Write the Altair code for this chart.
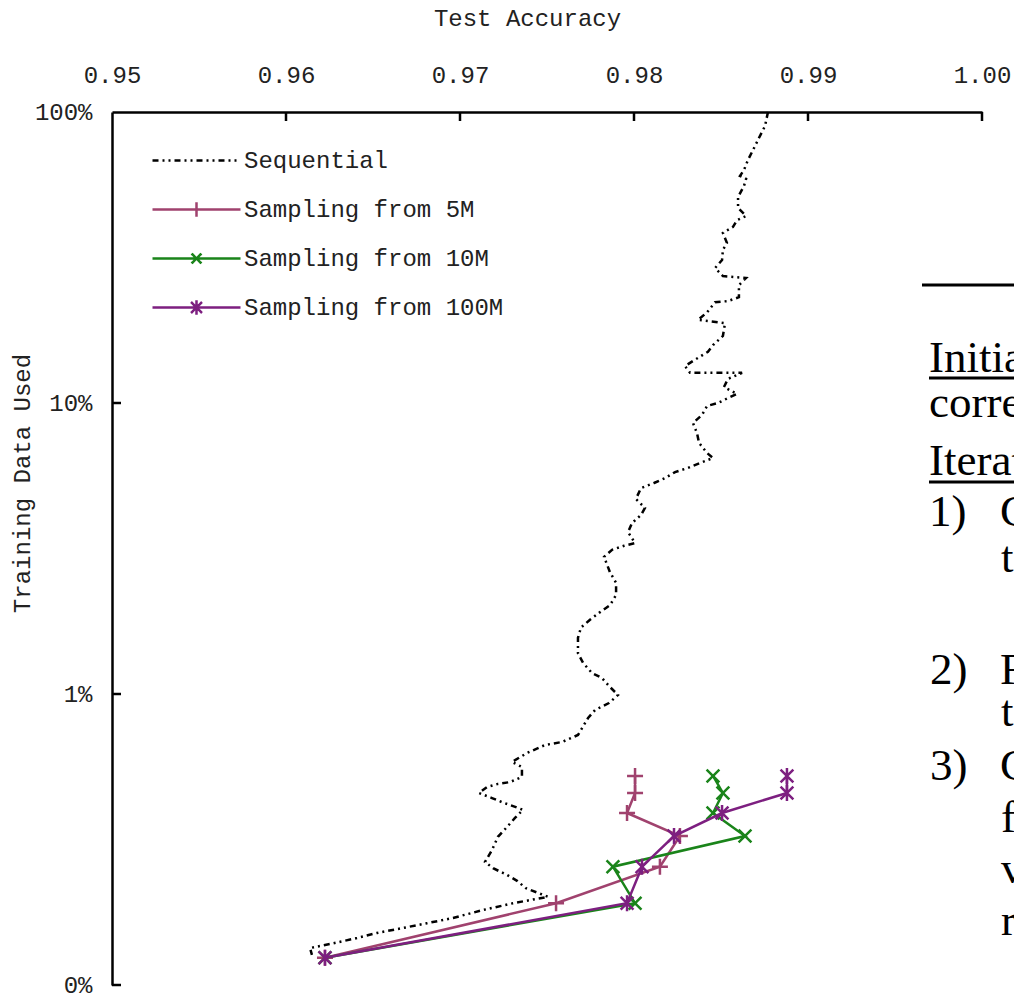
import altair as alt
import pandas as pd

# ---------------- data ----------------
series_names = ["Sequential", "Sampling from 5M", "Sampling from 10M", "Sampling from 100M"]
series_colors = ["#000000", "#A0426E", "#1A841A", "#7D1F80"]

seq_acc = [0.98770, 0.98753, 0.98718, 0.98684, 0.98655, 0.98632, 0.98609, 0.98644, 0.98632, 0.98598,
           0.98598, 0.98644, 0.98592, 0.98569, 0.98511, 0.98534, 0.98511, 0.98506, 0.98466, 0.98511,
           0.98644, 0.98603, 0.98603, 0.98540, 0.98466, 0.98420, 0.98368, 0.98431, 0.98523, 0.98511,
           0.98454, 0.98425, 0.98368, 0.98293, 0.98322, 0.98621, 0.98540, 0.98517, 0.98592, 0.98540,
           0.98483, 0.98420, 0.98391, 0.98339, 0.98362, 0.98374, 0.98420, 0.98454, 0.98379, 0.98310,
           0.98236, 0.98178, 0.98115, 0.98040, 0.98011, 0.98063, 0.98040, 0.97989, 0.97966, 0.98006,
           0.97943, 0.97874, 0.97828, 0.97862, 0.97897, 0.97897, 0.97862, 0.97799, 0.97747, 0.97695,
           0.97678, 0.97678, 0.97707, 0.97759, 0.97816, 0.97862, 0.97908, 0.97856, 0.97776, 0.97736,
           0.97678, 0.97586, 0.97489, 0.97385, 0.97299, 0.97356, 0.97356, 0.97287, 0.97218, 0.97155,
           0.97109, 0.97184, 0.97241, 0.97305, 0.97362, 0.97316, 0.97270, 0.97218, 0.97184, 0.97144,
           0.97190, 0.97270, 0.97328, 0.97379, 0.97506, 0.97305, 0.97132, 0.96960, 0.96810, 0.96672,
           0.96523, 0.96408, 0.96270, 0.96138, 0.96149]
seq_frac = [1.0, 0.895, 0.814, 0.740, 0.684, 0.632, 0.603, 0.589, 0.557, 0.510,
            0.468, 0.439, 0.425, 0.403, 0.384, 0.355, 0.336, 0.310, 0.291, 0.273,
            0.269, 0.254, 0.231, 0.224, 0.222, 0.205, 0.193, 0.191, 0.188, 0.170,
            0.158, 0.150, 0.143, 0.134, 0.127, 0.127, 0.121, 0.1135, 0.1074, 0.1040,
            0.100, 0.0977, 0.0910, 0.0854, 0.0788, 0.0729, 0.0673, 0.0647, 0.0622, 0.0598,
            0.0579, 0.0552, 0.0531, 0.0510, 0.0468, 0.0436, 0.0412, 0.0387, 0.0360, 0.0330,
            0.0323, 0.0313, 0.0296, 0.0262, 0.0241, 0.0219, 0.0202, 0.0190, 0.0180, 0.0169,
            0.0156, 0.0138, 0.0128, 0.0118, 0.01135, 0.01057, 0.00992, 0.00931, 0.00881, 0.00827,
            0.00723, 0.00684, 0.00668, 0.00627, 0.00584, 0.00561, 0.00519, 0.00498, 0.00491, 0.00479,
            0.00457, 0.00439, 0.00425, 0.00412, 0.00400, 0.00375, 0.00349, 0.00323, 0.00291, 0.00265,
            0.00252, 0.00239, 0.00228, 0.00215, 0.00201, 0.00191, 0.00181, 0.00170, 0.00163, 0.00157,
            0.00151, 0.00145, 0.00139, 0.00134, 0.00127]

samp_frac = [0.00124, 0.00191, 0.00255, 0.00325, 0.00390, 0.00457, 0.00523]
s5_acc = [0.96224, 0.97552, 0.98149, 0.98264, 0.97960, 0.98006, 0.98006]
s10_acc = [0.96224, 0.98006, 0.97879, 0.98638, 0.98454, 0.98511, 0.98454]
s100_acc = [0.96224, 0.97960, 0.98046, 0.98230, 0.98506, 0.98879, 0.98879]

x_tick_values = [0.95, 0.96, 0.97, 0.98, 0.99, 1.00]
y_tick_values = [0.001, 0.01, 0.1, 1.0]

# text of the neighbouring page that shows at the right edge
page_text = ["Initia", "corre", "Iterat", "1)", "C", "t", "2)", "F", "t", "3)", "C", "f", "v", "r"]

# ---------------- styles / layout ----------------
FONT = "Liberation Mono"
TXT = "#222222"
PLOT_W, PLOT_H = 870, 873
PAD = {"left": 112, "top": 112, "right": 32, "bottom": 8}

marker_paths = {
    "Sampling from 5M": "M-1,0H1M0,-1V1",
    "Sampling from 10M": "M-0.8,-0.8L0.8,0.8M-0.8,0.8L0.8,-0.8",
    "Sampling from 100M": "M0,-1V1M-0.8,-0.8L0.8,0.8M-0.8,0.8L0.8,-0.8",
}
legend_paths = [
    "M-4,0H4",
    "M-4,0H4M0,-0.65V0.65",
    "M-4,0H4M-0.45,-0.45L0.45,0.45M-0.45,0.45L0.45,-0.45",
    "M-4,0H4M0,-0.65V0.65M-0.5,-0.5L0.5,0.5M-0.5,0.5L0.5,-0.5",
]
SEQ_DASH = [6, 4, 2, 4, 2, 4]
legend_dashes = [SEQ_DASH, [1, 0], [1, 0], [1, 0]]

# page-bleed text placement (pixels relative to plot origin)
page_pos = [(817, 260), (817, 305), (817, 363), (817, 414), (888, 414), (889, 460),
            (818, 572), (888, 572), (889, 614), (818, 668), (888, 668), (889, 720),
            (889, 771), (889, 823)]
page_rules = [(810, 173), (817, 266), (817, 370)]

# ---------------- build table ----------------
rows = []
for name, accs, fracs in [
    ("Sequential", seq_acc, seq_frac),
    ("Sampling from 5M", s5_acc, samp_frac),
    ("Sampling from 10M", s10_acc, samp_frac),
    ("Sampling from 100M", s100_acc, samp_frac),
]:
    for i, (a, f) in enumerate(zip(accs, fracs)):
        rows.append({"series": name, "acc": a, "frac": f, "idx": i})
df = pd.DataFrame(rows)

X = alt.X(
    "acc:Q",
    scale=alt.Scale(domain=[0.95, 1.0], nice=False, zero=False),
    axis=alt.Axis(
        orient="top", values=x_tick_values, format=".2f", title="Test Accuracy",
        titleX=415, titleY=-94, titleAlign="center", titleBaseline="middle", titleAngle=0,
        titleFont=FONT, titleFontSize=24, titleFontWeight="normal", titleColor=TXT,
        labelFont=FONT, labelFontSize=24, labelColor=TXT, labelPadding=37,
        labelBaseline="middle", labelFlush=False, labelOverlap=False,
        ticks=False, tickSize=0, grid=False, domainColor="black", domainWidth=2.5,
    ),
)
Y = alt.Y(
    "frac:Q",
    scale=alt.Scale(type="log", domain=[0.001, 1.0], nice=False),
    axis=alt.Axis(
        orient="left", values=y_tick_values, format=".0%", title="Training Data Used",
        titleX=-90, titleY=371, titleAlign="center", titleBaseline="middle", titleAngle=270,
        titleFont=FONT, titleFontSize=24, titleFontWeight="normal", titleColor=TXT,
        labelFont=FONT, labelFontSize=24, labelColor=TXT, labelPadding=20,
        labelFlush=False, labelOverlap=False,
        ticks=False, tickSize=0, grid=False, domainColor="black", domainWidth=2.5,
    ),
)

base = alt.Chart(df)
layers = []

layers.append(
    base.transform_filter(alt.datum.series == "Sequential")
    .mark_line(color="black", strokeWidth=2.5, strokeDash=SEQ_DASH)
    .encode(x=X, y=Y, order="idx:Q")
)
for name, col in zip(series_names[1:], series_colors[1:]):
    sub = base.transform_filter(alt.datum.series == name)
    layers.append(sub.mark_line(color=col, strokeWidth=2.5).encode(x=X, y=Y, order="idx:Q"))
    layers.append(
        sub.mark_point(shape=marker_paths[name], size=256, filled=False, stroke=col,
                       strokeWidth=2.5, opacity=1)
        .encode(x=X, y=Y)
    )

# inward ticks
layers.append(
    alt.Chart(pd.DataFrame({"acc": x_tick_values[1:]}))
    .mark_rule(color="black", strokeWidth=2.5)
    .encode(x=X, y=alt.value(0), y2=alt.value(9))
)
layers.append(
    alt.Chart(pd.DataFrame({"frac": y_tick_values[:-1]}))
    .mark_rule(color="black", strokeWidth=2.5)
    .encode(y=Y, x=alt.value(0), x2=alt.value(9))
)

# legend-only layer (no rows drawn)
legend_df = pd.DataFrame({"series": series_names})
layers.append(
    alt.Chart(legend_df)
    .transform_filter("datum.series == 'none'")
    .mark_point(filled=False, opacity=1, size=484, strokeWidth=2.5)
    .encode(
        color=alt.Color("series:N", title=None,
                        scale=alt.Scale(domain=series_names, range=series_colors)),
        shape=alt.Shape("series:N", title=None,
                        scale=alt.Scale(domain=series_names, range=legend_paths)),
        strokeDash=alt.StrokeDash("series:N", title=None,
                                  scale=alt.Scale(domain=series_names, range=legend_dashes)),
    )
)

# neighbouring page text at the right edge
one = alt.Data(values=[{"k": 1}])
for s, (px, py) in zip(page_text, page_pos):
    layers.append(
        alt.Chart(one).mark_text(font="Liberation Serif", fontSize=45, align="left",
                                 baseline="alphabetic", color="black")
        .encode(x=alt.value(px), y=alt.value(py), text=alt.value(s))
    )
for px, py in page_rules:
    layers.append(
        alt.Chart(one).mark_rule(color="black", strokeWidth=3)
        .encode(x=alt.value(px), x2=alt.value(px + 120), y=alt.value(py))
    )

chart = (
    alt.layer(*layers)
    .properties(width=PLOT_W, height=PLOT_H,
                autosize=alt.AutoSizeParams(type="none"), padding=PAD)
    .configure_view(stroke="transparent")
    .configure_legend(
        orient="none", legendX=72, legendY=36, padding=0,
        labelFont=FONT, labelFontSize=24, labelColor=TXT, labelOffset=35, labelLimit=500,
        rowPadding=24, symbolSize=484, symbolStrokeWidth=2.5,
    )
)

chart.save("out.html", embed_options={"renderer": "svg", "actions": False})
